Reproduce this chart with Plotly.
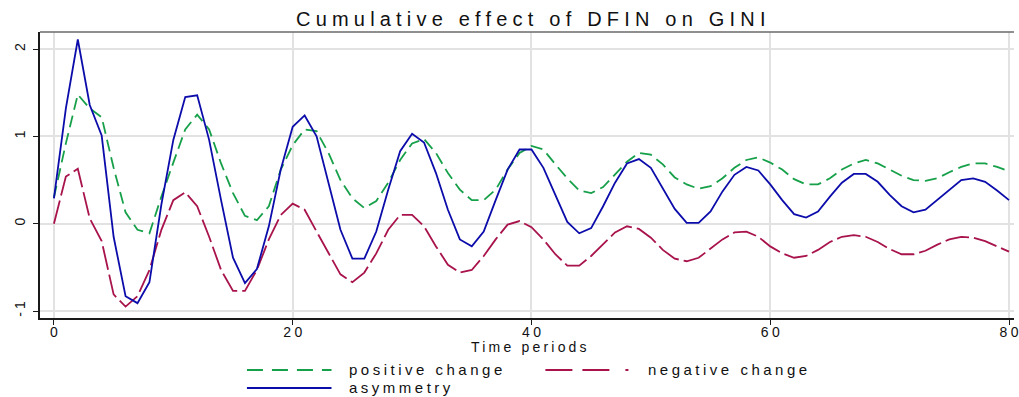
import plotly.graph_objects as go

periods = list(range(0, 81))

positive_change = [0.30, 0.92, 1.48, 1.32, 1.22, 0.64, 0.13, -0.07, -0.11, 0.31,
                   0.70, 1.08, 1.25, 1.08, 0.69, 0.35, 0.09, 0.04, 0.20, 0.62,
                   0.90, 1.08, 1.06, 0.81, 0.50, 0.29, 0.18, 0.26, 0.47, 0.73,
                   0.92, 0.97, 0.81, 0.58, 0.39, 0.27, 0.27, 0.39, 0.62, 0.81,
                   0.89, 0.85, 0.68, 0.52, 0.38, 0.35, 0.42, 0.56, 0.71, 0.81,
                   0.79, 0.68, 0.53, 0.45, 0.40, 0.43, 0.52, 0.64, 0.73, 0.76,
                   0.70, 0.62, 0.51, 0.45, 0.45, 0.52, 0.62, 0.69, 0.73, 0.69,
                   0.62, 0.55, 0.50, 0.49, 0.52, 0.59, 0.65, 0.69, 0.69, 0.65,
                   0.60]

negative_change = [0.00, 0.54, 0.63, 0.06, -0.20, -0.81, -0.95, -0.83, -0.53, -0.07,
                   0.27, 0.36, 0.20, -0.15, -0.53, -0.77, -0.77, -0.53, -0.18, 0.10,
                   0.23, 0.16, -0.09, -0.34, -0.58, -0.67, -0.56, -0.34, -0.07, 0.10,
                   0.10, -0.03, -0.26, -0.47, -0.56, -0.53, -0.37, -0.18, -0.01, 0.03,
                   -0.04, -0.18, -0.35, -0.48, -0.48, -0.37, -0.23, -0.10, -0.03, -0.06,
                   -0.16, -0.30, -0.40, -0.43, -0.39, -0.29, -0.18, -0.10, -0.09, -0.15,
                   -0.26, -0.34, -0.39, -0.37, -0.30, -0.21, -0.15, -0.13, -0.15, -0.21,
                   -0.29, -0.35, -0.35, -0.31, -0.24, -0.18, -0.15, -0.16, -0.20, -0.26,
                   -0.32]

asymmetry = [0.29, 1.32, 2.11, 1.36, 1.01, -0.15, -0.83, -0.91, -0.67, 0.22,
             0.96, 1.45, 1.47, 0.96, 0.27, -0.39, -0.68, -0.52, -0.03, 0.62,
             1.11, 1.24, 1.00, 0.47, -0.07, -0.40, -0.40, -0.09, 0.39, 0.83,
             1.03, 0.93, 0.58, 0.16, -0.18, -0.26, -0.09, 0.27, 0.62, 0.85,
             0.85, 0.64, 0.32, 0.02, -0.11, -0.05, 0.20, 0.47, 0.69, 0.74,
             0.64, 0.41, 0.17, 0.01, 0.01, 0.14, 0.37, 0.56, 0.65, 0.61,
             0.45, 0.27, 0.11, 0.07, 0.14, 0.31, 0.47, 0.57, 0.57, 0.48,
             0.33, 0.20, 0.13, 0.16, 0.27, 0.39, 0.50, 0.52, 0.48, 0.38,
             0.27]

x_ticks = [0, 20, 40, 60, 80]
y_ticks = [-1, 0, 1, 2]
title_text = "Cumulative effect of DFIN on GINI"
x_title = "Time periods"
series_names = ["positive change", "negative change", "asymmetry"]

GREEN = "#17a04a"
RED = "#a8134c"
BLUE = "#0c0cab"
FONT = "Liberation Sans, Arial, sans-serif"

W, H = 1019, 397
ML, MR, MT, MB = 40, 0, 32, 79
PW, PH = W - ML - MR, H - MT - MB


def spaced(s, ls):
    # letter-spacing on all but the last character (keeps centring accurate)
    if len(s) <= 1:
        return s
    return f'<span style="letter-spacing:{ls}px">{s[:-1]}</span>{s[-1]}'


def px(x):
    return (x - ML) / PW


def py(y):
    return (MT + PH - y) / PH


fig = go.Figure()
fig.add_trace(go.Scatter(x=periods, y=positive_change, mode="lines", name=series_names[0],
                         line=dict(color=GREEN, width=1.8, dash="12px,6px"), showlegend=False))
fig.add_trace(go.Scatter(x=periods, y=negative_change, mode="lines", name=series_names[1],
                         line=dict(color=RED, width=1.8, dash="24px,5px"),
                         showlegend=False))
fig.add_trace(go.Scatter(x=periods, y=asymmetry, mode="lines", name=series_names[2],
                         line=dict(color=BLUE, width=1.8), showlegend=False))

shapes = [
    dict(type="line", xref="paper", yref="paper", x0=0, x1=1, y0=1, y1=1,
         line=dict(color="#6a6a6a", width=1.5)),
    # legend samples
    dict(type="line", xref="paper", yref="paper", x0=px(248), x1=px(333), y0=py(370), y1=py(370),
         line=dict(color=GREEN, width=1.8, dash="16px,9px")),
    dict(type="line", xref="paper", yref="paper", x0=px(548), x1=px(632), y0=py(370), y1=py(370),
         line=dict(color=RED, width=1.8, dash="27px,10px,27px,16px,3px,10px")),
    dict(type="line", xref="paper", yref="paper", x0=px(248), x1=px(333), y0=py(388), y1=py(388),
         line=dict(color=BLUE, width=1.8)),
]

lf = dict(family=FONT, size=15, color="#111111")
annotations = [
    dict(text=spaced(title_text, 5.2), x=px(533), y=py(19.5), xref="paper", yref="paper",
         xanchor="center", yanchor="middle", showarrow=False,
         font=dict(family=FONT, size=20, color="#111111")),
    dict(text=spaced(x_title, 3.2), x=px(532), y=py(347), xref="paper", yref="paper",
         xanchor="center", yanchor="middle", showarrow=False,
         font=dict(family=FONT, size=14, color="#111111")),
    dict(text=spaced(series_names[0], 3.5), x=px(349), y=py(369), xref="paper", yref="paper",
         xanchor="left", yanchor="middle", showarrow=False, font=lf),
    dict(text=spaced(series_names[1], 3.5), x=px(649), y=py(369), xref="paper", yref="paper",
         xanchor="left", yanchor="middle", showarrow=False, font=lf),
    dict(text=spaced(series_names[2], 3.5), x=px(349), y=py(387), xref="paper", yref="paper",
         xanchor="left", yanchor="middle", showarrow=False, font=lf),
]

x_lo = (ML - 54) / 12.0
x_hi = (W - MR - 54) / 12.0
y_unit = 87.3
y_lo = -(MT + PH - 223.7) / y_unit
y_hi = y_lo + PH / y_unit

fig.update_layout(
    width=W, height=H,
    margin=dict(l=ML, r=MR, t=MT, b=MB, pad=0),
    paper_bgcolor="white", plot_bgcolor="white",
    font=dict(family=FONT, color="#111111"),
    shapes=shapes, annotations=annotations,
    xaxis=dict(range=[x_lo, x_hi], tickvals=x_ticks,
               ticktext=[spaced(str(v), 3.5) for v in x_ticks],
               ticklabelstandoff=-5, ticklabeloverflow="allow",
               showgrid=True, gridcolor="#e2e2e2", gridwidth=2,
               zeroline=False, showline=True, linecolor="#1a1a1a", linewidth=1.5,
               ticks="outside", ticklen=5, tickwidth=1.3, tickcolor="#1a1a1a",
               tickfont=dict(family=FONT, size=14, color="#111111")),
    yaxis=dict(range=[y_lo, y_hi], tickvals=y_ticks,
               ticktext=[spaced(str(v), 3) for v in y_ticks],
               tickangle=-90, ticklabelstandoff=3,
               showgrid=True, gridcolor="#e2e2e2", gridwidth=2,
               zeroline=False, showline=True, linecolor="#1a1a1a", linewidth=1.5,
               ticks="outside", ticklen=5, tickwidth=1.3, tickcolor="#1a1a1a",
               tickfont=dict(family=FONT, size=14, color="#111111")),
)

fig.write_html("out.html", config={"displayModeBar": False},
               post_script="document.body.style.margin='0px';document.body.style.padding='0px';")
